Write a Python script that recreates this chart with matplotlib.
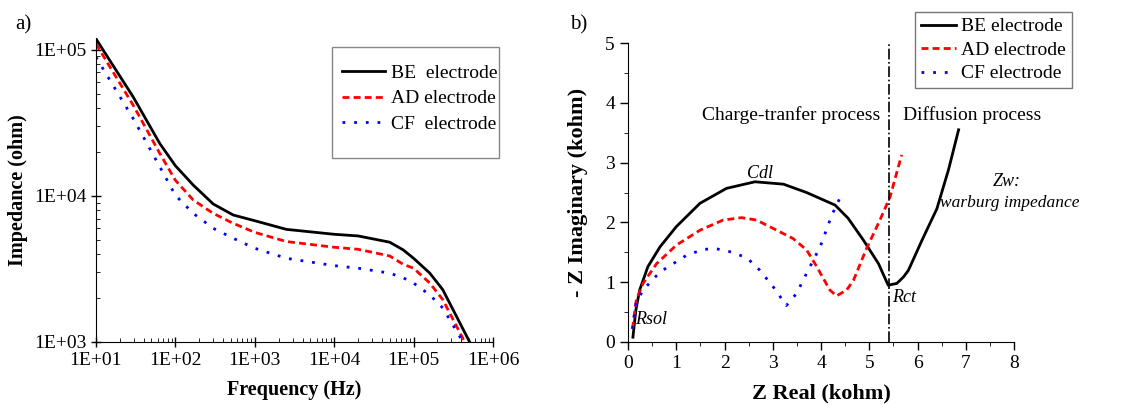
import numpy as np
import matplotlib.pyplot as plt
from matplotlib.patches import Rectangle
from matplotlib.ticker import FixedLocator, FuncFormatter, LogLocator, MultipleLocator

plt.rcParams['font.family'] = ['Liberation Serif', 'DejaVu Serif']

# a) Bode plot: |Z| vs frequency
freq = [10, 29.5, 63.8, 100, 168, 300, 535, 1000, 2500, 1e4, 2e4, 5e4, 7.4e4, 1e5, 1.6e5, 2.33e5]
z_be = [119000, 47500, 22800, 16100, 11860, 8800, 7400, 6760, 5900, 5460, 5320, 4820, 4270, 3740, 2960, 2280]
z_ad = [110000, 41700, 19500, 12800, 9370, 7590, 6490, 5630, 4870, 4450, 4310, 3880, 3400, 3200, 2530, 1950]
z_cf = [89100, 33800, 15800, 10100, 7590, 6000, 5130, 4380, 3740, 3330, 3200, 2960, 2750, 2530, 2100, 1710]
f_end = {'BE': 5.08e5, 'AD': 4.4e5, 'CF': 4.19e5}

# b) Nyquist plot (kohm)
be_re = [0.10, 0.16, 0.24, 0.41, 0.66, 1.00, 1.49, 2.04, 2.63, 3.22, 3.70, 4.29, 4.56, 4.88, 5.19, 5.39,
         5.57, 5.71, 5.81, 6.09, 6.40, 6.64, 6.85]
be_im = [0.08, 0.53, 0.87, 1.26, 1.59, 1.93, 2.32, 2.57, 2.68, 2.64, 2.50, 2.29, 2.07, 1.70, 1.31, 0.95,
         0.98, 1.09, 1.20, 1.70, 2.23, 2.88, 3.55]
ad_re = [0.09, 0.17, 0.31, 0.59, 1.00, 1.49, 1.97, 2.35, 2.66, 3.08, 3.42, 3.70, 3.91, 4.18, 4.32, 4.53,
         4.67, 4.94, 5.22, 5.43, 5.67]
ad_im = [0.22, 0.70, 0.98, 1.31, 1.62, 1.87, 2.04, 2.08, 2.04, 1.87, 1.73, 1.54, 1.26, 0.87, 0.77, 0.87,
         1.03, 1.56, 2.04, 2.43, 3.13]
cf_re = [0.09, 0.16, 0.31, 0.66, 1.21, 1.56, 1.83, 2.11, 2.46, 2.73, 3.01, 3.28, 3.49, 3.70, 3.98, 4.22, 4.45]
cf_im = [0.22, 0.64, 0.87, 1.17, 1.45, 1.55, 1.56, 1.51, 1.41, 1.20, 0.92, 0.61, 0.81, 1.15, 1.59, 2.12, 2.51]
r_ct = 5.41

RED_DASH = (0, (2.5, 1.5))
BLUE_DOT = (0, (1.0, 3.2))

fig = plt.figure(figsize=(11.42, 4.05), dpi=100)
ax1 = fig.add_axes([0.084, 0.1556, 0.3477, 0.75])
ax2 = fig.add_axes([0.550, 0.1556, 0.338, 0.738])

for ax in (ax1, ax2):
    ax.spines['top'].set_visible(False)
    ax.spines['right'].set_visible(False)
    ax.tick_params(labelsize=14, width=1)

# ---- panel a
ax1.plot(freq + [f_end['BE']], z_be + [1000], color='black', lw=2, label='BE  electrode')
ax1.plot(freq + [f_end['AD']], z_ad + [1000], color='red', lw=2, ls=RED_DASH, label='AD electrode')
ax1.plot(freq + [f_end['CF']], z_cf + [1000], color='blue', lw=2, ls=BLUE_DOT, label='CF  electrode')
ax1.set_xscale('log')
ax1.set_yscale('log')
ax1.set_xlim(10, 1e6)
ax1.set_ylim(1000, 1.2e5)
ax1.xaxis.set_major_locator(FixedLocator([1e1, 1e2, 1e3, 1e4, 1e5, 1e6]))
ax1.yaxis.set_major_locator(FixedLocator([1e3, 1e4, 1e5]))
ax1.xaxis.set_minor_locator(LogLocator(base=10, subs=np.arange(2, 10), numticks=20))
ax1.yaxis.set_minor_locator(LogLocator(base=10, subs=np.arange(2, 10), numticks=20))
fmt = FuncFormatter(lambda v, p: '1E+%02d' % int(round(np.log10(v))))
ax1.xaxis.set_major_formatter(fmt)
ax1.yaxis.set_major_formatter(fmt)
ax1.xaxis.set_minor_formatter(FuncFormatter(lambda v, p: ''))
ax1.yaxis.set_minor_formatter(FuncFormatter(lambda v, p: ''))
ax1.tick_params(which='major', direction='inout', length=7)
ax1.tick_params(which='minor', direction='in', length=3)
ax1.set_xlabel('Frequency (Hz)', fontsize=14.5, fontweight='bold', labelpad=8)
ax1.set_ylabel('Impedance (ohm)', fontsize=14.5, fontweight='bold', labelpad=4)
leg1 = ax1.legend(loc='upper left', bbox_to_anchor=(0.62, 0.914), frameon=False, fontsize=14,
                  handlelength=2.2, handletextpad=0.3, labelspacing=0.4,
                  borderpad=0, borderaxespad=0)
ax1.add_patch(Rectangle((0.594, 0.605), 0.421, 0.365, transform=ax1.transAxes, fill=False,
                        edgecolor='#888888', lw=1, clip_on=False))

# ---- panel b
ax2.plot(be_re, be_im, color='black', lw=2, label='BE electrode')
ax2.plot(ad_re, ad_im, color='red', lw=2, ls=RED_DASH, label='AD electrode')
ax2.plot(cf_re, cf_im, color='blue', lw=2, ls=BLUE_DOT, label='CF electrode')
ax2.axvline(r_ct, color='black', lw=1.2, ls='-.')
ax2.set_xlim(0, 8)
ax2.set_ylim(0, 5)
ax2.xaxis.set_major_locator(MultipleLocator(1))
ax2.xaxis.set_minor_locator(MultipleLocator(0.5))
ax2.yaxis.set_major_locator(MultipleLocator(1))
ax2.yaxis.set_minor_locator(MultipleLocator(0.5))
ax2.tick_params(which='major', direction='out', length=6)
ax2.tick_params(which='minor', direction='out', length=3)
ax2.set_xlabel('Z Real (kohm)', fontsize=16, fontweight='bold', labelpad=8)
ax2.set_ylabel('- Z Imaginary (kohm)', fontsize=16, fontweight='bold', labelpad=12)
leg2 = ax2.legend(loc='upper right', bbox_to_anchor=(1.15, 1.104), fontsize=14, fancybox=False,
                  edgecolor='#555555', handlelength=1.8, handletextpad=0.3, labelspacing=0.3,
                  borderpad=0.3, borderaxespad=0)
leg2.get_frame().set_linewidth(1)

ax2.text(3.37, 3.8, 'Charge-tranfer process', fontsize=14, ha='center', va='center')
ax2.text(7.14, 3.8, 'Diffusion process', fontsize=14, ha='center', va='center')
ax2.text(2.73, 2.82, 'Cdl', fontsize=13, style='italic', ha='center', va='center')
ax2.text(0.14, 0.38, 'Rsol', fontsize=13, style='italic', ha='left', va='center')
ax2.text(5.48, 0.74, 'Rct', fontsize=13, style='italic', ha='left', va='center')
ax2.text(7.85, 2.68, 'Zw:', fontsize=13, style='italic', ha='center', va='center')
ax2.text(7.9, 2.32, 'warburg impedance', fontsize=12.5, style='italic', ha='center', va='center')

fig.text(0.013, 0.926, 'a)', fontsize=15)
fig.text(0.499, 0.926, 'b)', fontsize=15)

fig.savefig('out.png', dpi=100)
